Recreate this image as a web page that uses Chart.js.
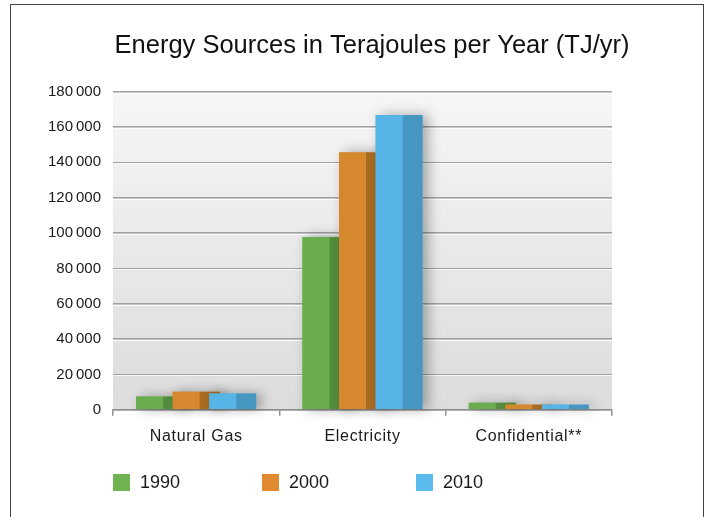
<!DOCTYPE html>
<html>
<head>
<meta charset="utf-8">
<script src="https://cdn.jsdelivr.net/npm/chart.js@4.4.1/dist/chart.umd.min.js"></script>
<style>
  html, body { margin: 0; padding: 0; background: #fff; }
  #wrap { position: relative; width: 709px; height: 517px; }
  #frame {
    position: absolute; left: 10px; top: 4px; width: 692px; height: 520px;
    border: 1.5px solid #444; border-bottom: none;
  }
  canvas { position: absolute; left: 0; top: 0; }
</style>
</head>
<body>
<div id="wrap">
  <div id="frame"></div>
  <canvas id="chart" width="709" height="517"></canvas>
</div>
<script>
const categories = ['Natural Gas', 'Electricity', 'Confidential**'];
const years = ['1990', '2000', '2010'];
const values1990 = [7500, 97700, 4000];
const values2000 = [10200, 145600, 2900];
const values2010 = [9200, 166700, 2900];
const yTicks = [0, 20000, 40000, 60000, 80000, 100000, 120000, 140000, 160000, 180000];

// front face, side face, legend swatch
const colours = [
  ['#6aad4e', '#548d3d', '#70b452'],
  ['#d5882e', '#a96b22', '#e08b2f'],
  ['#56b4e6', '#4596c1', '#5bbbef']
];

const fmt = v => v.toString().replace(/\B(?=(\d{3})+(?!\d))/g, '\u2009');

// plot area background with the soft grey gradient
const plotBg = {
  id: 'plotBg',
  beforeDraw(chart) {
    const { ctx, chartArea: a } = chart;
    const g = ctx.createLinearGradient(0, a.top, 0, a.bottom);
    g.addColorStop(0, '#f6f6f6');
    g.addColorStop(1, '#dcdcdc');
    ctx.save();
    ctx.fillStyle = g;
    ctx.fillRect(a.left, a.top, a.right - a.left, a.bottom - a.top);
    ctx.restore();
  }
};

// draw bars as pseudo-3D blocks, left to right so each one overlaps the previous side face
const blockBars = {
  id: 'blockBars',
  beforeDatasetsDraw(chart) {
    const { ctx, chartArea: a, scales } = chart;
    // white highlight under each gridline
    ctx.save();
    ctx.strokeStyle = 'rgba(255,255,255,0.9)';
    ctx.lineWidth = 1;
    yTicks.forEach(t => {
      if (t === 0) return;
      const y = Math.round(scales.y.getPixelForValue(t)) + 1.5;
      ctx.beginPath();
      ctx.moveTo(a.left, y);
      ctx.lineTo(a.right, y);
      ctx.stroke();
    });
    ctx.restore();

    chart.data.datasets.forEach((ds, i) => {
      const meta = chart.getDatasetMeta(i);
      meta.data.forEach(el => {
        const { x, y, base, width } = el.getProps(['x', 'y', 'base', 'width'], true);
        const left = x - width / 2;
        const h = base - y;
        const front = width * 0.575;
        ctx.save();
        ctx.shadowColor = 'rgba(0,0,0,0.32)';
        ctx.shadowBlur = 12;
        ctx.shadowOffsetX = 5;
        ctx.shadowOffsetY = 0;
        ctx.fillStyle = colours[i][0];
        ctx.fillRect(left, y, width, h);
        ctx.restore();
        ctx.fillStyle = colours[i][0];
        ctx.fillRect(left, y, front, h);
        ctx.fillStyle = colours[i][1];
        ctx.fillRect(left + front, y, width - front, h);
      });
    });
    return false;
  }
};

const legendX = [0, 149, 303];
const customLegend = {
  id: 'customLegend',
  afterDraw(chart) {
    const { ctx, chartArea: a } = chart;
    ctx.save();
    ctx.font = '18px "Liberation Sans", Arial, sans-serif';
    ctx.textBaseline = 'middle';
    chart.data.datasets.forEach((ds, i) => {
      const x = a.left + legendX[i];
      ctx.fillStyle = colours[i][2];
      ctx.fillRect(x, 474, 17, 17);
      ctx.fillStyle = '#1a1a1a';
      ctx.fillText(ds.label, x + 27, 483);
    });
    ctx.restore();
  }
};

// slightly letter-spaced category labels
const spaceLabels = s => {
  if (s._spaced) return;
  const orig = s.drawLabels.bind(s);
  s.drawLabels = area => {
    s.ctx.save();
    s.ctx.letterSpacing = '0.7px';
    orig(area);
    s.ctx.restore();
  };
  s._spaced = true;
};

new Chart(document.getElementById('chart'), {
  type: 'bar',
  data: {
    labels: categories,
    datasets: [
      { label: years[0], data: values1990, backgroundColor: colours[0][0] },
      { label: years[1], data: values2000, backgroundColor: colours[1][0] },
      { label: years[2], data: values2010, backgroundColor: colours[2][0] }
    ]
  },
  options: {
    responsive: false,
    animation: false,
    categoryPercentage: 0.66,
    barPercentage: 1.28,
    layout: { padding: { left: 35, right: 0, top: 0, bottom: 60 } },
    plugins: {
      legend: { display: false },
      tooltip: { enabled: false },
      title: {
        display: true,
        text: 'Energy Sources in Terajoules per Year (TJ/yr)',
        color: '#111',
        font: { family: '"Liberation Sans", Arial, sans-serif', size: 25.5, weight: 'normal' },
        padding: { top: 31, bottom: 30 }
      }
    },
    scales: {
      x: {
        afterUpdate: spaceLabels,
        grid: { display: true, drawOnChartArea: false, drawTicks: true, tickLength: 6, color: '#8e8e8e', lineWidth: 1.5 },
        border: { display: true, color: '#8e8e8e', width: 1.5 },
        ticks: {
          padding: 11,
          color: '#1a1a1a',
          font: { family: '"Liberation Sans", Arial, sans-serif', size: 16 }
        }
      },
      y: {
        min: 0,
        max: 180000,
        afterFit: s => { s.width = 78; },
        afterBuildTicks: s => { s.ticks = yTicks.map(v => ({ value: v })); },
        grid: { drawTicks: false, color: '#a0a0a0', lineWidth: 1.5 },
        border: { display: false },
        ticks: {
          padding: 12,
          color: '#1a1a1a',
          font: { family: '"Liberation Sans", Arial, sans-serif', size: 15 },
          callback: v => fmt(v)
        }
      },
      y2: {
        position: 'right',
        display: true,
        afterFit: s => { s.width = 97; },
        grid: { display: false },
        border: { display: false },
        ticks: { display: false }
      }
    }
  },
  plugins: [plotBg, blockBars, customLegend]
});
</script>
</body>
</html>
